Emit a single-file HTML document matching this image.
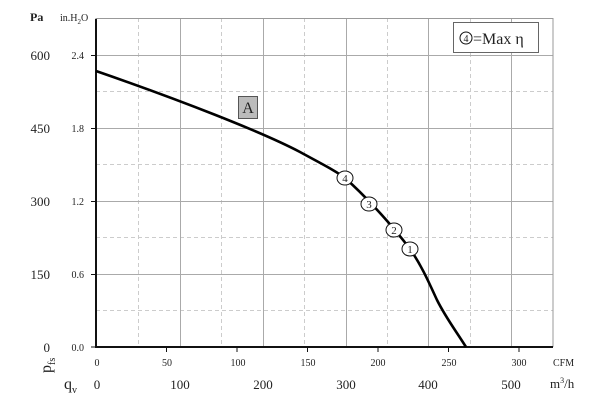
<!DOCTYPE html><html><head><style>body{margin:0;background:#fff}svg{display:block}text{font-family:"Liberation Serif",serif;fill:#222}</style></head><body>
<svg width="600" height="404" viewBox="0 0 600 404">
<g stroke="#ccc" stroke-width="1" stroke-dasharray="4,3" fill="none">
<path d="M138.5 18V346M221.5 18V346M304.5 18V346M387.5 18V346M470.5 18V346M96 91.5H553M96 164.5H553M96 237.5H553M96 310.5H553"/></g>
<g stroke="#aaa" stroke-width="1" fill="none">
<path d="M180.5 18V346M263.5 18V346M346.5 18V346M428.5 18V346M511.5 18V346M96 55.5H553M96 128.5H553M96 201.5H553M96 274.5H553"/>
<rect x="96" y="18.5" width="457" height="328" stroke="#999"/></g>
<path d="M96 19V347H553" stroke="#111" stroke-width="2" fill="none"/>
<g stroke="#111" stroke-width="1"><path d="M91 55.5H96M91 128.5H96M91 201.5H96M91 274.5H96M91 347H96M166.5 347V352M237 347V352M307.5 347V352M378 347V352M448.5 347V352M519 347V352"/></g>
<path d="M96 71 C180 100 262 132 300 152 C322 164 336 171 345 178 C362 193 388 220 410 249 C422 266 430 285 437 300 C446 318 456 331 466 347" stroke="#000" stroke-width="2.6" fill="none" stroke-linejoin="round"/>
<g fill="#fff" stroke="#111" stroke-width="1"><ellipse cx="345" cy="178" rx="8" ry="7"/><ellipse cx="369" cy="204" rx="8" ry="7"/><ellipse cx="394" cy="230" rx="8" ry="7"/><ellipse cx="410" cy="249" rx="8" ry="7"/></g>
<g font-size="11" text-anchor="middle"><text x="345" y="182">4</text><text x="369" y="208">3</text><text x="394" y="234">2</text><text x="410" y="253">1</text></g>
<rect x="238.5" y="96.5" width="19" height="22" fill="#bbb" stroke="#555"/>
<text x="248" y="113" font-size="16" text-anchor="middle">A</text>
<rect x="453.5" y="22.5" width="85" height="30" fill="#fff" stroke="#666"/>
<circle cx="466" cy="38" r="6" fill="none" stroke="#111"/><text x="466" y="42" font-size="10" text-anchor="middle">4</text>
<text x="473" y="44" font-size="16">=Max η</text>
<text x="30" y="21" font-size="12" font-weight="bold">Pa</text>
<text x="60" y="21" font-size="10">in.H<tspan font-size="7" dy="3">2</tspan><tspan dy="-3">O</tspan></text>
<g font-size="13" text-anchor="end"><text x="50" y="60">600</text><text x="50" y="133">450</text><text x="50" y="206">300</text><text x="50" y="279">150</text><text x="50" y="352">0</text></g>
<g font-size="10" text-anchor="end"><text x="84" y="59">2.4</text><text x="84" y="132">1.8</text><text x="84" y="205">1.2</text><text x="84" y="278">0.6</text><text x="84" y="351">0.0</text></g>
<g font-size="10" text-anchor="middle"><text x="97" y="366">0</text><text x="167" y="366">50</text><text x="238" y="366">100</text><text x="308" y="366">150</text><text x="378" y="366">200</text><text x="449" y="366">250</text><text x="519" y="366">300</text></g>
<text x="553" y="366" font-size="10">CFM</text>
<g font-size="13" text-anchor="middle"><text x="97" y="389">0</text><text x="180" y="389">100</text><text x="263" y="389">200</text><text x="346" y="389">300</text><text x="428" y="389">400</text><text x="511" y="389">500</text></g>
<text x="550" y="388" font-size="13">m<tspan font-size="8" dy="-5">3</tspan><tspan dy="5">/h</tspan></text>
<text x="64" y="389" font-size="16">q<tspan font-size="10" dy="4">v</tspan></text>
<text transform="translate(51,373) rotate(-90)" font-size="16">p<tspan font-size="10" dy="4">fs</tspan></text>
</svg></body></html>
